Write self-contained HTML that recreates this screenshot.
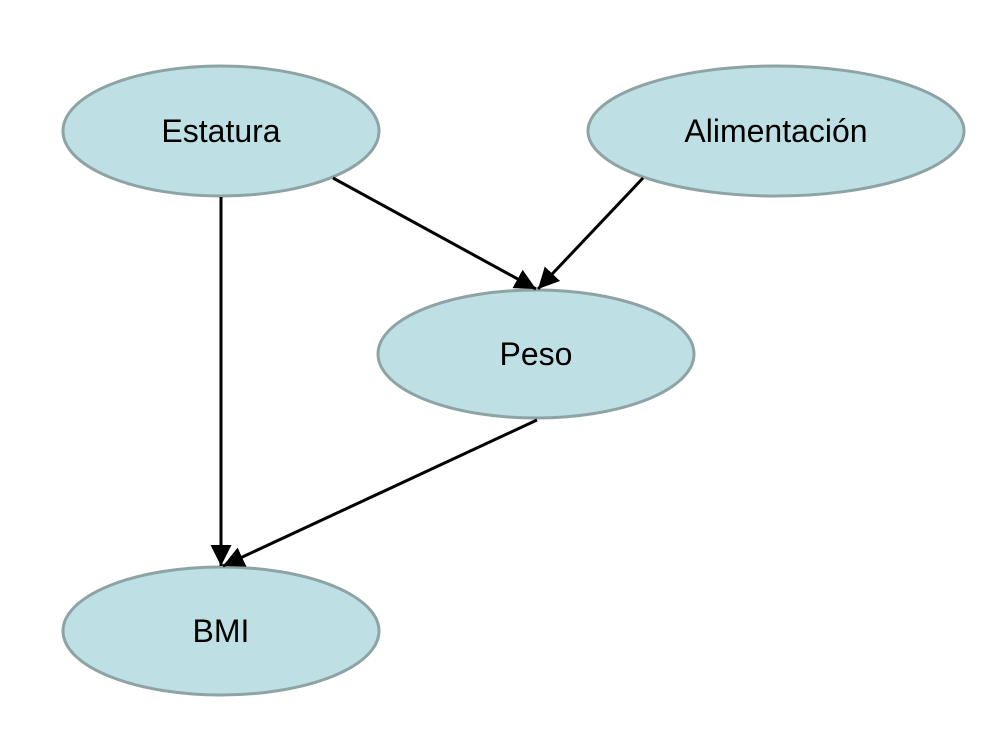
<!DOCTYPE html>
<html><head><meta charset="utf-8"><style>html,body{margin:0;padding:0;background:#fff;}</style></head>
<body>
<svg width="1008" height="742" viewBox="0 0 1008 742" xmlns="http://www.w3.org/2000/svg">
<defs>
<marker id="ah" viewBox="0 0 10 10" refX="10" refY="5" markerWidth="7" markerHeight="7" orient="auto"><path d="M0,0 L10,5 L0,10 z" fill="#000"/></marker>
</defs>
<g fill="#bee0e4" stroke="#8ea3a3" stroke-width="3">
<ellipse cx="221" cy="131" rx="158" ry="65"/>
<ellipse cx="776" cy="131" rx="188" ry="65"/>
<ellipse cx="536" cy="354" rx="158" ry="64"/>
<ellipse cx="221" cy="631" rx="158" ry="64"/>
</g>
<g stroke="#000" stroke-width="3" fill="none" marker-end="url(#ah)">
<line x1="221" y1="197" x2="221" y2="566"/>
<line x1="333" y1="178" x2="536" y2="289"/>
<line x1="643" y1="178" x2="538" y2="289"/>
<line x1="537" y1="420" x2="223" y2="566"/>
</g>
<g font-family="Liberation Sans, sans-serif" font-size="32" text-anchor="middle" fill="#000">
<text x="221" y="142">Estatura</text>
<text x="776" y="142">Alimentación</text>
<text x="536" y="365">Peso</text>
<text x="221" y="642">BMI</text>
</g>
</svg>
</body></html>
